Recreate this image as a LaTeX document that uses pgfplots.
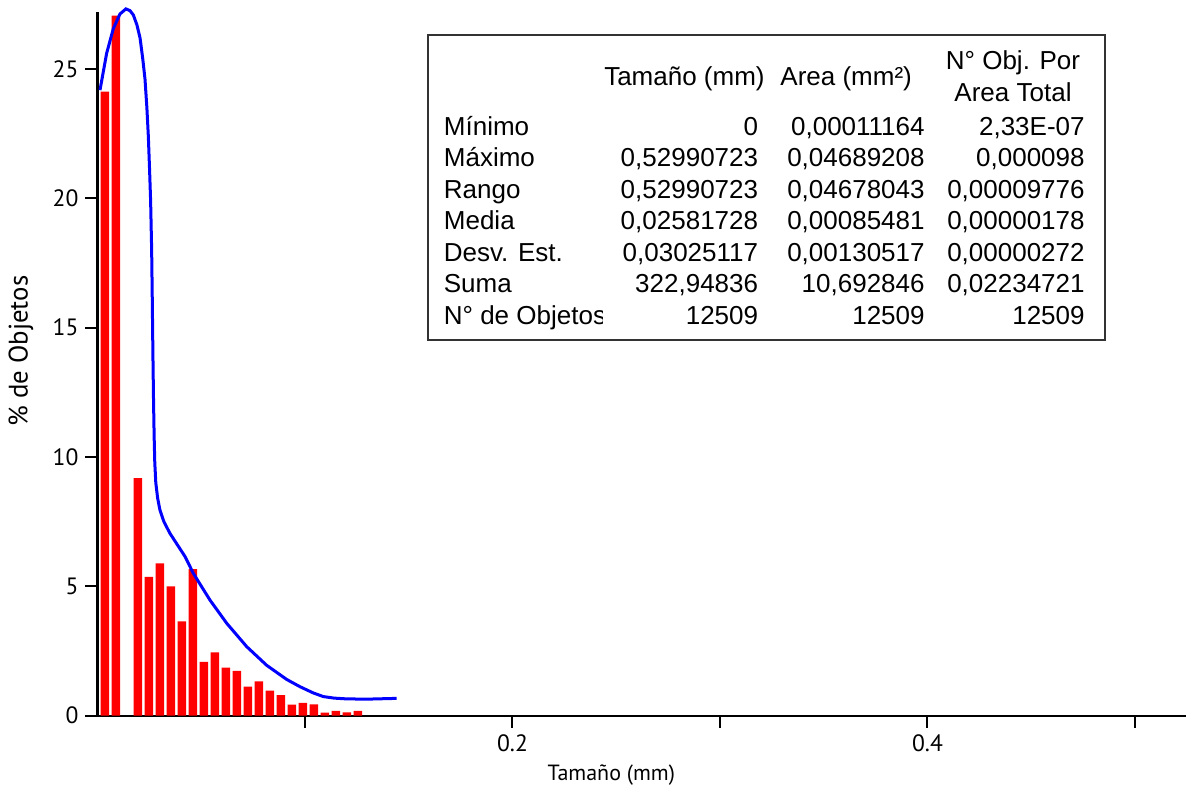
\documentclass[border=0pt]{standalone}
\usepackage{fontspec}
\setmainfont{PT Sans}
\newfontfamily\tablefont{Liberation Sans}
\usepackage{pgfplots}
\pgfplotsset{compat=1.18}

% one row of the statistics box: baseline (px), label, three values
\newcommand{\statrow}[5]{%
  \node[anchor=base west] at (443.5,#1) {#2};
  \node[anchor=base east] at (758.5,#1) {#3};
  \node[anchor=base east] at (925,#1) {#4};
  \node[anchor=base east] at (1085,#1) {#5};
}

\begin{document}
\begin{tikzpicture}
\begin{axis}[
    scale only axis,
    width=544.25pt,
    height=351.85pt,
    xmin=0, xmax=0.5246,
    ymin=0, ymax=27.2,
    axis lines=left,
    axis line style={-, line width=1.2pt},
    tick align=outside,
    major tick length=6pt,
    tick style={line width=1pt, black},
    xtick={0.1,0.2,0.3,0.4,0.5},
    xticklabels={,0.2,,0.4,},
    ytick={0,5,10,15,20,25},
    tick label style={font=\fontsize{11.8}{13}\selectfont},
    /pgf/number format/assume math mode=true,
    xlabel={Tamaño (mm)},
    ylabel={\% de Objetos},
    xlabel style={at={(axis description cs:0.472,-0.0843)}, anchor=center,
                  font=\fontsize{11}{13}\selectfont},
    ylabel style={at={(axis description cs:-0.0703,0.518)}, anchor=center,
                  font=\fontsize{13.4}{15}\selectfont},
    clip=false,
  ]
  \addplot[ybar, bar width=0.0041, fill=red, draw=none] coordinates {
    (0.00361,24.12) (0.00891,27.06) (0.01951,9.18) (0.02481,5.37)
    (0.03011,5.89) (0.03541,5.00) (0.04071,3.65) (0.04601,5.67)
    (0.05131,2.08) (0.05661,2.45) (0.06191,1.86) (0.06721,1.73)
    (0.07251,1.12) (0.07781,1.33) (0.08311,0.97) (0.08841,0.80)
    (0.09371,0.43) (0.09901,0.50) (0.10431,0.44) (0.10961,0.12)
    (0.11491,0.19) (0.12021,0.13) (0.12551,0.19)
  };
  \addplot[blue, line width=1.5pt] coordinates {
    (0.0012,24.18) (0.0044,25.60) (0.0076,26.55) (0.0108,27.12)
    (0.0137,27.32) (0.0157,27.25) (0.0173,27.08) (0.0190,26.70)
    (0.0205,26.20) (0.0218,25.40) (0.0229,24.60) (0.0238,23.50)
    (0.0245,22.40) (0.0251,21.10) (0.0256,19.90) (0.0261,18.00)
    (0.0264,16.10) (0.0267,14.00) (0.0270,12.20) (0.0273,10.80)
    (0.0276,9.80) (0.0281,9.00) (0.0290,8.40) (0.0301,7.95)
    (0.0320,7.50) (0.0349,7.05) (0.0422,6.15) (0.0462,5.50)
    (0.0542,4.47) (0.0623,3.57) (0.0719,2.67) (0.0815,1.95)
    (0.0912,1.40) (0.0976,1.12) (0.1040,0.88) (0.1088,0.74)
    (0.1140,0.68) (0.1200,0.65) (0.1300,0.64) (0.1442,0.67)
  };
  \coordinate (O) at (rel axis cs:0,0);
\end{axis}
\pgfresetboundingbox
% pixel frame of the reference image, origin top left
\begin{scope}[shift={(O)}, xshift=-48.75pt, yshift=357.85pt, x=0.5pt, y=-0.5pt]
  \path[use as bounding box] (0,0) rectangle (1186,787);
  \draw[line width=1.4pt, black!80] (428,35) rectangle (1105,340);
  \begin{scope}[font=\tablefont\fontsize{13}{16}\selectfont, inner sep=0pt]
    \node[anchor=base east] at (765,86) {Tamaño (mm)};
    \node[anchor=base west] at (780,86) {Area (mm²)};
    \node[anchor=base] at (1013,69.5) {N° Obj. Por};
    \node[anchor=base] at (1013,101.5) {Area Total};
    \statrow{135.5}{Mínimo}{0}{0,00011164}{2,33E-07}
    \statrow{167}{Máximo}{0,52990723}{0,04689208}{0,000098}
    \statrow{198.5}{Rango}{0,52990723}{0,04678043}{0,00009776}
    \statrow{230}{Media}{0,02581728}{0,00085481}{0,00000178}
    \statrow{261.5}{Desv. Est.}{0,03025117}{0,00130517}{0,00000272}
    \statrow{293}{Suma}{322,94836}{10,692846}{0,02234721}
    \begin{scope}
      \clip (430,300) rectangle (602,340);
      \node[anchor=base west] at (443.5,324.5) {N° de Objetos};
    \end{scope}
    \node[anchor=base east] at (758.5,324.5) {12509};
    \node[anchor=base east] at (925,324.5) {12509};
    \node[anchor=base east] at (1085,324.5) {12509};
  \end{scope}
\end{scope}
\end{tikzpicture}
\end{document}
